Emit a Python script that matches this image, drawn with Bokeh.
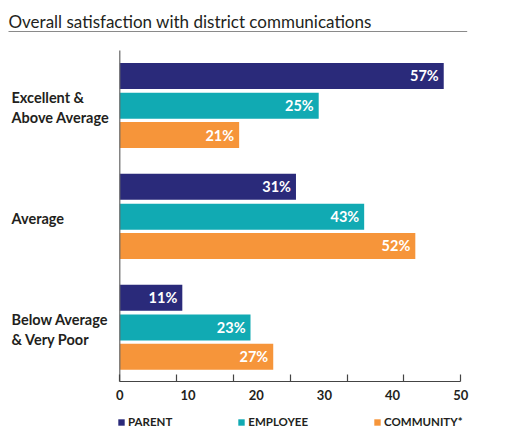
import numpy as np
from bokeh.plotting import figure
from bokeh.layouts import column
from bokeh.models import Range1d, FixedTicker, ColumnDataSource, Legend, LegendItem
from bokeh.core.properties import value
from bokeh.embed import file_html
from bokeh.resources import INLINE

# ---- data ----
title_text = "Overall satisfaction with district communications"
categories = ["Excellent &\nAbove Average", "Average", "Below Average\n& Very Poor"]
series = ["PARENT", "EMPLOYEE", "COMMUNITY*"]
parent = [57, 31, 11]
employee = [35, 43, 23]
community = [21, 52, 27]
parent_labels = ["57%", "31%", "11%"]
employee_labels = ["25%", "43%", "23%"]
community_labels = ["21%", "52%", "27%"]
tick_marks = [0, 10, 20, 30, 40, 50, 60]
tick_labels = ["0", "10", "20", "30", "40", "50"]

# ---- style / layout ----
colors = ["#2a2a7a", "#11aab3", "#f6953a"]
FONT = "Lato"
TXT = "#231f20"
W, H = 511, 410
BOTTOM = 29
LEG_H = 30
PXX = 5.683          # px per x unit
X0 = 119.3           # px of x=0 from figure left
PXY = 110.85         # px per group
Y0 = 105.3           # px of first group center from figure top
frame_h = H - BOTTOM

x_range = Range1d(-X0 / PXX, (W - X0) / PXX)
y_range = Range1d((frame_h - Y0) / PXY, (0 - Y0) / PXY)

def fy(px):
    return (px - Y0) / PXY

def fx(px):
    return (px - X0) / PXX

p = figure(width=W, height=H, x_range=x_range, y_range=y_range,
           output_backend="svg", toolbar_location=None,
           y_axis_location=None, x_axis_location="below",
           min_border_left=0, min_border_right=0, min_border_top=0,
           min_border_bottom=BOTTOM)
p.outline_line_color = None
p.xgrid.grid_line_color = None
p.ygrid.grid_line_color = None
p.background_fill_color = "white"
p.border_fill_color = "white"

offsets = [-0.269, 0.0, 0.264]
bar_h = 0.2346
for vals, labs, col, off in zip([parent, employee, community],
                                [parent_labels, employee_labels, community_labels],
                                colors, offsets):
    src = ColumnDataSource(dict(y=[i + off for i in range(len(categories))],
                                v=vals, lab=labs))
    p.hbar(y="y", right="v", left=0, height=bar_h, source=src,
           fill_color=col, line_color=None)
    p.text(x="v", y="y", text="lab", source=src, x_offset=-5,
           text_align="right", text_baseline="middle", text_color="white",
           text_font=value(FONT), text_font_style="bold", text_font_size="14.5px")

# category labels
p.text(x=[x_range.start] * len(categories), y=list(range(len(categories))),
       text=categories, x_offset=11, y_offset=2, text_align="left",
       text_baseline="middle", text_line_height=1.18, text_color=TXT,
       text_font=value(FONT), text_font_style="bold", text_font_size="14.5px")

# title + underline
p.text(x=[x_range.start], y=[fy(21)], text=[title_text], x_offset=8,
       text_align="left", text_baseline="alphabetic", text_color=TXT,
       text_font=value(FONT), text_font_size="17px")
p.segment(x0=[fx(8)], y0=[fy(31)], x1=[fx(466.7)], y1=[fy(31)],
          line_color="#8a8a8a", line_width=1)

# left axis line
p.segment(x0=[0], y0=[fy(50)], x1=[0], y1=[y_range.start],
          line_color="#666666", line_width=1.2)

# x axis
label_pos = [int(round(v)) for v in np.linspace(tick_marks[0], tick_marks[-1], len(tick_labels))]
ax = p.xaxis[0]
ax.ticker = FixedTicker(ticks=label_pos, minor_ticks=tick_marks)
ax.major_label_overrides = {k: v for k, v in zip(label_pos, tick_labels)}
ax.bounds = (tick_marks[0], tick_marks[-1])
ax.axis_line_color = "#444444"
ax.axis_line_width = 1.2
ax.major_tick_line_color = None
ax.major_tick_in = 0
ax.major_tick_out = 0
ax.minor_tick_in = 7
ax.minor_tick_out = 0
ax.minor_tick_line_color = "#444444"
ax.minor_tick_line_width = 1.2
ax.major_label_standoff = 8
ax.major_label_text_font = FONT
ax.major_label_text_font_style = "bold"
ax.major_label_text_font_size = "13px"
ax.major_label_text_color = TXT

# legend strip (same x scale); swatch bars sit outside the visible y range
p2 = figure(width=W, height=LEG_H, x_range=x_range, y_range=Range1d(0, 1),
            output_backend="svg", toolbar_location=None,
            x_axis_location=None, y_axis_location=None,
            min_border_left=0, min_border_right=0, min_border_top=0,
            min_border_bottom=0)
p2.outline_line_color = None
p2.xgrid.grid_line_color = None
p2.ygrid.grid_line_color = None
p2.background_fill_color = "white"
p2.border_fill_color = "white"
leg_renderers = []
for col in colors:
    r = p2.hbar(y=[-10], right=[1], left=0, height=0.5, fill_color=col, line_color=None)
    leg_renderers.append(r)

legend = Legend(items=[LegendItem(label=s, renderers=[r]) for s, r in zip(series, leg_renderers)],
                orientation="horizontal", location=(117, 12),
                glyph_width=8, glyph_height=8, label_standoff=3, spacing=65,
                padding=0, margin=0, label_height=8,
                border_line_color=None, background_fill_alpha=0,
                label_text_font=FONT, label_text_font_style="bold",
                label_text_font_size="11.5px", label_text_color=TXT)
p2.add_layout(legend)

open("out.html", "w").write(file_html(column(p, p2, spacing=0), INLINE))
